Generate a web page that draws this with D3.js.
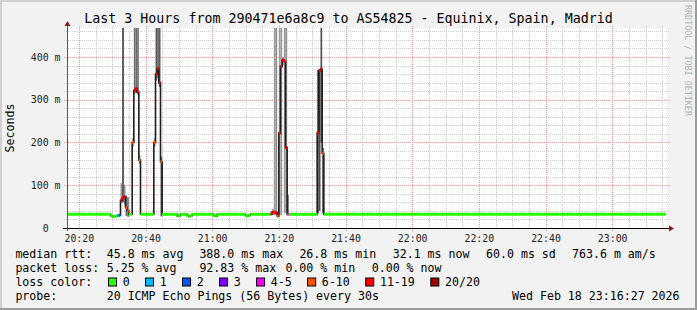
<!DOCTYPE html>
<html lang="en">
  <head>
    <meta charset="utf-8">
    <title>Smokeping</title>
    <script src="https://cdn.jsdelivr.net/npm/d3@7"></script>
    <style>
      body { margin: 0; background: #f2f2f2; }
      text { font-family: 'DejaVu Sans Mono', monospace; white-space: pre; }
    </style>
  </head>
  <body>
    <div id="chart"></div>
    <script>
      // one entry per run of 30s steps, start in minutes after 20:00
      let seg_start  = [16.5, 29.5, 30, 30.5, 31, 31.5, 32, 32.5, 33, 33.5, 34, 34.5, 35,
                        36, 36.5, 37, 37.5, 38, 38.5,
                        42.5, 43, 43.5, 44, 44.5, 45,
                        49.5, 50, 50.5, 52.5, 53, 53.5, 54, 60.5, 61, 61.5, 70, 70.5, 71, 71.5,
                        77.5, 78, 78.5, 79, 79.5, 80, 80.5, 81, 81.5, 82, 82.5, 83,
                        91.5, 92, 92.5, 93, 93.5]
      let data_end = 196   // 23:16:00
      // median rtt in ms
      let seg_median = [32, 29, 27, 27, 28, 29, 30, 65, 70, 73, 48, 40, 32,
                        200, 322, 326, 318, 159, 32,
                        200, 360, 373, 340, 155, 32,
                        28, 29, 32, 29, 27, 29, 32, 29, 28, 32, 29, 28, 30, 32,
                        33, 37, 37, 35, 28, 222, 378, 393, 390, 188, 32, 32,
                        222, 368, 372, 175, 32]
      // lost pings out of 20
      let seg_loss   = [0, 0, 0, 0, 0, 1, 2, 12, 13, 12, 10, 8, 0,
                        9, 14, 15, 13, 9, 0,
                        9, 14, 15, 13, 9, 0,
                        0, 0, 0, 0, 0, 0, 0, 0, 0, 0, 0, 0, 0, 0,
                        12, 14, 15, 13, 8, 13, 14, 15, 14, 13, 4, 0,
                        13, 14, 15, 9, 0]
      // smoke band (ms) and how many pings fall in it
      let smoke_lo   = [31, 28, 26, 26, 27, 28, 29, 58, 60, 55, 28, 26, 31,
                        190, 315, 315, 312, 150, 31,
                        190, 345, 350, 330, 27, 31,
                        27, 28, 31, 28, 26, 28, 31, 28, 27, 31, 28, 27, 29, 31,
                        30, 30, 30, 30, 25, 30, 30, 380, 35, 35, 30, 31,
                        35, 40, 200, 35, 31]
      let smoke_hi   = [33, 30, 28, 28, 29, 30, 31, 105, 480, 100, 75, 72, 33,
                        210, 480, 480, 480, 170, 33,
                        210, 480, 480, 480, 167, 33,
                        29, 30, 33, 30, 28, 30, 33, 30, 29, 33, 30, 29, 31, 33,
                        40, 45, 480, 480, 40, 480, 480, 400, 480, 480, 77, 33,
                        370, 370, 480, 187, 33]
      let smoke_count = [0, 0, 0, 0, 0, 0, 0, 3, 9, 4, 6, 6, 0,
                         4, 6, 6, 6, 4, 0,
                         4, 7, 7, 7, 7, 0,
                         0, 0, 0, 0, 0, 0, 0, 0, 0, 0, 0, 0, 0, 0,
                         3, 3, 3, 4, 3, 3, 3, 3, 3, 4, 6, 0,
                         8, 8, 8, 8, 0]

      let loss_levels = [0, 1, 2, 3, 5, 10, 19, 20]
      let loss_labels = ['0', '1', '2', '3', '4-5', '6-10', '11-19', '20/20']
      let loss_colors = ['#26ff00', '#00b8ff', '#0059ff', '#7e00ff', '#ff00ff', '#ff5500', '#ff0000', '#a10000']

      let y_ticks = [0, 0.1, 0.2, 0.3, 0.4]
      let y_tick_labels = ['0  ', '100 m', '200 m', '300 m', '400 m']

      let title = 'Last 3 Hours from 290471e6a8c9 to AS54825 - Equinix, Spain, Madrid'
      let stats_rtt = ['45.8 ms avg', '388.0 ms max', '26.8 ms min', '32.1 ms now', '60.0 ms sd', '763.6 m am/s']
      let stats_loss = ['5.25 % avg', '92.83 % max', '0.00 % min', '0.00 % now']
      let probe_text = '20 ICMP Echo Pings (56 Bytes) every 30s'
      let stamp = 'Wed Feb 18 23:16:27 2026'

      let W = 697, H = 310
      let pLeft = 67, pTop = 28, pw = 600, ph = 200

      let t0 = new Date(2026, 1, 18, 20, 16, 27)
      let t1 = new Date(2026, 1, 18, 23, 16, 27)
      let at = (m) => new Date(2026, 1, 18, 20, 0, 0).getTime() + m * 60000

      let x = d3.scaleTime().domain([t0, t1]).range([pLeft, pLeft + pw])
      let y = d3.scaleLinear().domain([0, 0.4678]).range([pTop + ph, pTop])
      let shade = d3.scaleLinear().domain([3, 9]).range(['#9a9a9a', '#404040']).clamp(true)
      let lossCat = (l) => loss_levels.findIndex(v => l <= v)

      let svg = d3.select('#chart').append('svg')
        .attr('width', W).attr('height', H)

      svg.append('rect').attr('width', W).attr('height', H).attr('fill', '#f2f2f2')
      svg.append('path').attr('d', 'M0,1H' + W + 'M1,0V' + H).attr('stroke', '#d0d0d0').attr('stroke-width', 2)
      svg.append('path').attr('d', 'M0,' + (H - 1) + 'H' + W + 'M' + (W - 1) + ',0V' + H).attr('stroke', '#9c9c9c').attr('stroke-width', 2)

      svg.append('rect')
        .attr('x', pLeft).attr('y', pTop).attr('width', pw).attr('height', ph)
        .attr('fill', '#fff')

      // grid
      let grid = svg.append('g').attr('shape-rendering', 'crispEdges')
      let minorX = x.ticks(d3.timeMinute.every(5))
      let majorX = x.ticks(d3.timeMinute.every(20))
      grid.selectAll('.mx').data(minorX).enter().append('line')
        .attr('x1', d => Math.round(x(d)) + 0.5).attr('x2', d => Math.round(x(d)) + 0.5)
        .attr('y1', pTop - 2).attr('y2', pTop + ph + 2)
        .attr('stroke', '#cfcfcf').attr('stroke-dasharray', '1,1')
      let minorY = d3.range(0.02, 0.4678, 0.02)
      grid.selectAll('.my').data(minorY).enter().append('line')
        .attr('x1', pLeft - 3).attr('x2', pLeft + pw + 2)
        .attr('y1', d => Math.round(y(d)) + 0.5).attr('y2', d => Math.round(y(d)) + 0.5)
        .attr('stroke', '#cfcfcf').attr('stroke-dasharray', '1,1')
      grid.selectAll('.Mx').data(majorX).enter().append('line')
        .attr('x1', d => Math.round(x(d)) + 0.5).attr('x2', d => Math.round(x(d)) + 0.5)
        .attr('y1', pTop - 2).attr('y2', pTop + ph + 3)
        .attr('stroke', '#f29a9a').attr('stroke-dasharray', '1,1')
      grid.selectAll('.My').data(y_ticks.slice(1)).enter().append('line')
        .attr('x1', pLeft - 3).attr('x2', pLeft + pw + 2)
        .attr('y1', d => Math.round(y(d)) + 0.5).attr('y2', d => Math.round(y(d)) + 0.5)
        .attr('stroke', '#f29a9a').attr('stroke-dasharray', '1,1')

      // build step records
      let steps = seg_start.map((s, i) => ({
        t0: at(s), t1: at(i + 1 < seg_start.length ? seg_start[i + 1] : data_end),
        med: seg_median[i] / 1000, cat: lossCat(seg_loss[i]),
        lo: smoke_lo[i] / 1000, hi: smoke_hi[i] / 1000, n: smoke_count[i]
      }))

      svg.append('clipPath').attr('id', 'clip').append('rect')
        .attr('x', pLeft).attr('y', pTop).attr('width', pw).attr('height', ph)
      let plot = svg.append('g').attr('clip-path', 'url(#clip)')

      // smoke
      plot.selectAll('.smoke').data(steps.filter(d => d.n > 0)).enter().append('rect')
        .attr('x', d => x(d.t0)).attr('width', d => x(d.t1) - x(d.t0))
        .attr('y', d => y(d.hi)).attr('height', d => y(d.lo) - y(d.hi))
        .attr('fill', d => shade(d.n))

      // black median stair line
      let pts = []
      steps.forEach(d => {
        pts.push({t: d.t0, v: d.med})
        pts.push({t: d.t1, v: d.med})
      })
      plot.append('path').attr('d', d3.line().x(d => x(d.t)).y(d => y(d.v))(pts))
        .attr('fill', 'none').attr('stroke', '#1e1e1e').attr('stroke-width', 1.6)

      // median coloured by loss, one flat piece per step
      plot.selectAll('.med').data(steps).enter().append('line')
        .attr('x1', d => x(d.t0)).attr('x2', d => x(d.t1))
        .attr('y1', d => y(d.med)).attr('y2', d => y(d.med))
        .attr('stroke', d => loss_colors[d.cat]).attr('stroke-width', 3)

      // axes
      let xAxis = svg.append('g')
        .attr('transform', 'translate(0,' + (pTop + ph) + ')')
        .call(d3.axisBottom(x).tickValues(majorX).tickFormat(d3.timeFormat('%H:%M')).tickSize(0))
      xAxis.select('.domain').remove()
      xAxis.selectAll('text').attr('y', 13.5).attr('dy', null)
        .attr('font-size', '9.9px').attr('font-family', 'DejaVu Sans Mono').attr('fill', '#222')

      let yAxis = svg.append('g')
        .attr('transform', 'translate(' + pLeft + ',0)')
        .call(d3.axisLeft(y).tickValues(y_ticks).tickFormat((d, i) => y_tick_labels[i]).tickSize(0).tickPadding(6.5))
      yAxis.select('.domain').remove()
      yAxis.selectAll('text')
        .attr('font-size', '9.9px').attr('font-family', 'DejaVu Sans Mono').attr('fill', '#222')

      svg.append('line').attr('x1', pLeft - 4).attr('x2', pLeft + pw + 3)
        .attr('y1', pTop + ph + 0.5).attr('y2', pTop + ph + 0.5).attr('stroke', '#000')
      svg.append('line').attr('x1', pLeft + 0.5).attr('x2', pLeft + 0.5)
        .attr('y1', pTop + ph + 3).attr('y2', pTop - 4).attr('stroke', '#555')
      svg.append('path')
        .attr('d', `M${pLeft + pw + 2},${pTop + ph - 2.5}L${pLeft + pw + 7},${pTop + ph + 0.5}L${pLeft + pw + 2},${pTop + ph + 3.5}Z`)
        .attr('fill', '#8c1a1a')
      svg.append('path')
        .attr('d', `M${pLeft - 2.5},${pTop - 2}L${pLeft + 0.5},${pTop - 7}L${pLeft + 3.5},${pTop - 2}Z`)
        .attr('fill', '#8c1a1a')

      // title and labels
      svg.append('text').attr('x', W / 2).attr('y', 23).attr('text-anchor', 'middle')
        .attr('font-size', '13.3px').attr('fill', '#000').text(title)
      svg.append('text').attr('transform', 'translate(14.3,128) rotate(-90)')
        .attr('text-anchor', 'middle').attr('font-size', '11.6px').text('Seconds')
      svg.append('text').attr('transform', 'translate(684.5,5) rotate(90)')
        .attr('font-size', '8.4px').attr('fill', '#b3b3b3').text('RRDTOOL / TOBI OETIKER')

      // legend
      let leg = svg.append('g').attr('font-size', '11.6px').attr('fill', '#000')
      let row = [257.5, 271.5, 285.5, 299.5]
      leg.append('text').attr('x', 15.4).attr('y', row[0]).text('median rtt:')
      let rttX = [106.7, 199.4, 299.4, 392.7, 486, 572]
      stats_rtt.forEach((s, i) => leg.append('text').attr('x', rttX[i]).attr('y', row[0]).text(s))
      leg.append('text').attr('x', 15.4).attr('y', row[1]).text('packet loss:')
      let lossX = [106.7, 199.4, 285.4, 371.7]
      stats_loss.forEach((s, i) => leg.append('text').attr('x', lossX[i]).attr('y', row[1]).text(s))
      leg.append('text').attr('x', 15.4).attr('y', row[2]).text('loss color:')
      let sx = 108.5
      loss_labels.forEach((lab, i) => {
        leg.append('rect').attr('x', sx).attr('y', row[2] - 7.5).attr('width', 8).attr('height', 8)
          .attr('fill', loss_colors[i]).attr('stroke', '#000').attr('stroke-width', 1)
        leg.append('text').attr('x', sx + 14.2).attr('y', row[2]).text(lab)
        sx = sx + 14.5 + lab.length * 7.02 + 15.5
      })
      leg.append('text').attr('x', 15.4).attr('y', row[3]).text('probe:')
      leg.append('text').attr('x', 106.7).attr('y', row[3]).text(probe_text)
      leg.append('text').attr('x', 512).attr('y', row[3]).text(stamp)
    </script>
  </body>
</html>
